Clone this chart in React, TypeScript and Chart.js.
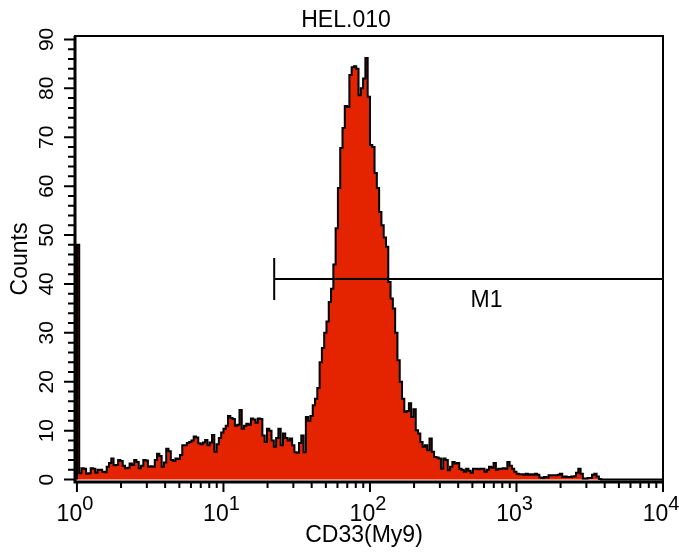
import React, { useEffect, useRef } from "react";
import { Chart, registerables } from "chart.js";

Chart.register(...registerables);

const TITLE = "HEL.010";
const X_AXIS_TITLE = "CD33(My9)";
const Y_AXIS_TITLE = "Counts";

const X_MIN = 0.97;
const X_MAX = 10000;
const Y_MIN = -0.5;
const Y_MAX = 90.7;

// 256 log-spaced channels over 4 decades
const CHANNELS_PER_DECADE = 64;
const X_MAJOR_TICKS = [1, 10, 100, 1000, 10000];
const X_TICK_BASE = "10";
const X_TICK_EXPONENTS = ["0", "1", "2", "3", "4"];
const X_MINOR_MULTIPLIERS = [2, 3, 4, 5, 6, 7, 8, 9];
const Y_MAJOR_TICKS = [0, 10, 20, 30, 40, 50, 60, 70, 80, 90];
const Y_MINOR_TICKS = [
  2, 4, 6, 8, 12, 14, 16, 18, 22, 24, 26, 28, 32, 34, 36, 38, 42, 44, 46, 48,
  52, 54, 56, 58, 62, 64, 66, 68, 72, 74, 76, 78, 82, 84, 86, 88,
];

const COUNTS = [
  48, 1.3, 2.3, 2.2, 1.2, 1.3, 2.3, 2.2, 1.4, 2.0, 2.0, 1.6, 1.5, 2.6, 3.4, 4.3,
  2.9, 3.0, 4.0, 3.8, 2.8, 2.3, 2.4, 3.3, 3.0, 4.0, 3.6, 2.3, 2.8, 4.0, 3.9, 2.6,
  2.7, 2.6, 4.0, 5.3, 4.8, 2.6, 3.5, 6.3, 5.8, 4.0, 3.8, 4.3, 4.2, 5.0, 7.0, 7.0,
  7.5, 7.7, 8.0, 8.8, 8.6, 7.4, 7.2, 7.6, 8.1, 7.0, 7.6, 9.1, 5.7, 7.2, 8.5, 9.6,
  10.4, 11.0, 13.0, 12.6, 12.4, 11.0, 11.2, 14.2, 10.4, 11.0, 11.4, 11.2, 12.5, 12.3, 11.6, 12.5,
  12.4, 9.0, 7.7, 10.4, 10.0, 8.0, 6.7, 8.5, 10.4, 7.0, 9.4, 8.5, 8.0, 8.4, 7.0, 5.6,
  5.5, 7.5, 9.0, 5.6, 12.8, 12.0, 13.0, 15.2, 16.5, 18.7, 24.0, 26.9, 30.0, 32.3, 36.3, 39.0,
  44.0, 51.4, 59.6, 67.8, 71.9, 76.4, 76.2, 82.7, 84.3, 84.5, 84.0, 78.6, 80.0, 82.0, 86.2, 78.3,
  68.4, 68.0, 62.7, 59.6, 54.7, 52.0, 49.5, 47.6, 40.4, 37.0, 35.0, 30.0, 24.4, 20.0, 16.5, 13.8,
  14.0, 15.6, 12.8, 14.4, 10.1, 9.4, 7.7, 6.7, 7.0, 6.0, 8.4, 5.7, 4.6, 4.5, 4.3, 2.2,
  4.3, 4.0, 1.9, 2.6, 3.6, 3.3, 3.4, 2.2, 2.0, 1.6, 2.2, 1.8, 1.4, 2.2, 2.2, 2.1,
  2.2, 2.2, 1.6, 2.0, 2.6, 2.4, 3.4, 2.0, 2.2, 2.2, 2.3, 2.2, 3.6, 2.8, 2.2, 1.6,
  1.2, 1.1, 1.1, 1.0, 1.2, 1.0, 1.1, 1.0, 1.2, 1.0, 0.4, 0.3, 0.5, 0.4, 0.9, 0.9,
  0.9, 0.9, 1.0, 1.2, 0.5, 0.6, 0.5, 0.5, 0.6, 0.7, 1.4, 2.2, 1.2, 0.2, 0.2, 0.3,
  0.3, 1.0, 1.2, 0.6, 0.1, 0, 0, 0, 0, 0, 0, 0, 0, 0, 0, 0,
  0, 0, 0, 0, 0, 0, 0, 0, 0, 0, 0, 0, 0, 0, 0, 0,
];

const MARKER_NAME = "M1";
const MARKER_RANGE = [22.2, 10000];
const MARKER_LEVEL = 41;
const MARKER_LABEL_AT = 625;

const FONT = '"Liberation Sans", Arial, Helvetica, sans-serif';
const FILL_COLOR = "rgb(228, 36, 0)";

const decorPlugin = {
  id: "decor",
  afterDatasetsDraw(chart: any) {
    const { ctx, chartArea: a, scales } = chart;
    const xs = scales.x;
    const ys = scales.y;
    ctx.save();
    ctx.strokeStyle = "#000";
    ctx.fillStyle = "#000";
    ctx.lineCap = "butt";

    // marker M1
    const my = ys.getPixelForValue(MARKER_LEVEL);
    const mx0 = xs.getPixelForValue(MARKER_RANGE[0]);
    const mx1 = xs.getPixelForValue(MARKER_RANGE[1]);
    ctx.lineWidth = 2;
    ctx.beginPath();
    ctx.moveTo(mx0, my);
    ctx.lineTo(mx1, my);
    ctx.moveTo(mx0, my - 21);
    ctx.lineTo(mx0, my + 21);
    ctx.moveTo(mx1, my - 21);
    ctx.lineTo(mx1, my + 21);
    ctx.stroke();
    ctx.font = `23px ${FONT}`;
    ctx.textAlign = "center";
    ctx.textBaseline = "alphabetic";
    ctx.fillText(MARKER_NAME, xs.getPixelForValue(MARKER_LABEL_AT), my + 28);

    // frame
    ctx.lineWidth = 2;
    ctx.strokeRect(a.left, a.top, a.right - a.left, a.bottom - a.top);
    ctx.lineWidth = 3;
    ctx.beginPath();
    ctx.moveTo(a.left, a.top);
    ctx.lineTo(a.left, a.bottom);
    ctx.lineTo(a.right, a.bottom);
    ctx.stroke();

    // y ticks
    ctx.lineWidth = 2;
    ctx.beginPath();
    Y_MAJOR_TICKS.forEach((v) => {
      const p = ys.getPixelForValue(v);
      ctx.moveTo(a.left - 11, p);
      ctx.lineTo(a.left, p);
    });
    Y_MINOR_TICKS.forEach((v) => {
      const p = ys.getPixelForValue(v);
      ctx.moveTo(a.left - 7, p);
      ctx.lineTo(a.left, p);
    });
    // x ticks
    X_MAJOR_TICKS.forEach((v, i) => {
      const p = xs.getPixelForValue(v);
      ctx.moveTo(p, a.bottom);
      ctx.lineTo(p, a.bottom + 10);
      if (i < X_MAJOR_TICKS.length - 1) {
        X_MINOR_MULTIPLIERS.forEach((m) => {
          const q = xs.getPixelForValue(v * m);
          ctx.moveTo(q, a.bottom);
          ctx.lineTo(q, a.bottom + 6);
        });
      }
    });
    ctx.stroke();

    // y tick labels (rotated)
    ctx.font = `21px ${FONT}`;
    ctx.textAlign = "center";
    Y_MAJOR_TICKS.forEach((v) => {
      const p = ys.getPixelForValue(v);
      ctx.save();
      ctx.translate(53, p);
      ctx.rotate(-Math.PI / 2);
      ctx.fillText(String(v), 0, 0);
      ctx.restore();
    });

    // x tick labels with superscripts
    X_MAJOR_TICKS.forEach((v, i) => {
      const p = xs.getPixelForValue(v);
      ctx.font = `23px ${FONT}`;
      const wb = ctx.measureText(X_TICK_BASE).width;
      ctx.font = `20px ${FONT}`;
      const ws = ctx.measureText(X_TICK_EXPONENTS[i]).width;
      const start = p - (wb + ws) / 2 - 2;
      ctx.textAlign = "left";
      ctx.font = `23px ${FONT}`;
      ctx.fillText(X_TICK_BASE, start, 521);
      ctx.font = `20px ${FONT}`;
      ctx.fillText(X_TICK_EXPONENTS[i], start + wb, 510);
    });

    // titles
    ctx.textAlign = "center";
    ctx.font = `23px ${FONT}`;
    ctx.fillText(TITLE, 346, 27);
    ctx.fillText(X_AXIS_TITLE, (a.left + a.right) / 2 - 5, 542);
    ctx.save();
    ctx.translate(27, (a.top + a.bottom) / 2);
    ctx.rotate(-Math.PI / 2);
    ctx.fillText(Y_AXIS_TITLE, 0, 0);
    ctx.restore();

    ctx.restore();
  },
};

export default function App() {
  const ref = useRef<HTMLCanvasElement>(null);
  useEffect(() => {
    document.body.style.margin = "0";
    const points: { x: number; y: number }[] = [{ x: 1, y: 0 }];
    COUNTS.forEach((c, i) => {
      points.push({ x: Math.pow(10, i / CHANNELS_PER_DECADE), y: c });
    });
    points.push({ x: X_MAX, y: COUNTS[COUNTS.length - 1] });

    const chart = new Chart(ref.current as HTMLCanvasElement, {
      type: "line",
      data: {
        datasets: [
          {
            data: points,
            stepped: true,
            fill: "origin",
            backgroundColor: FILL_COLOR,
            borderColor: "#000",
            borderWidth: 2,
            pointRadius: 0,
            tension: 0,
          },
        ],
      },
      options: {
        animation: false,
        responsive: false,
        events: [],
        layout: { padding: { left: 75, right: 16, top: 36, bottom: 74 } },
        plugins: {
          legend: { display: false },
          tooltip: { enabled: false },
          title: { display: false },
        },
        scales: {
          x: { type: "logarithmic", min: X_MIN, max: X_MAX, display: false },
          y: { type: "linear", min: Y_MIN, max: Y_MAX, display: false },
        },
      },
      plugins: [decorPlugin],
    });
    return () => chart.destroy();
  }, []);
  return (
    <canvas
      ref={ref}
      width={679}
      height={556}
      style={{ display: "block", width: 679, height: 556 }}
    />
  );
}
